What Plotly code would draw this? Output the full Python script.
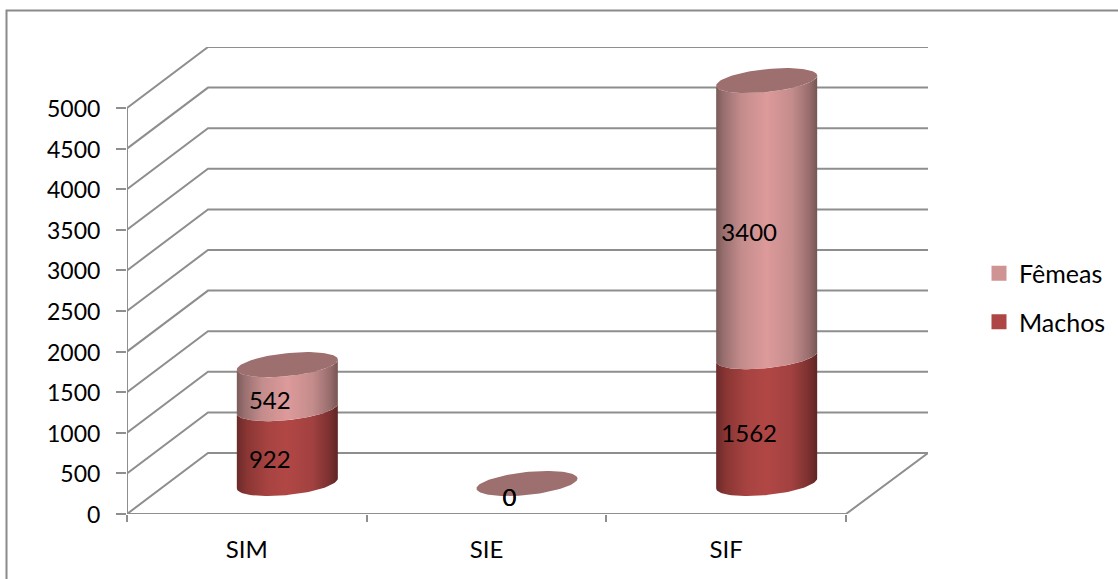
import numpy as np
import plotly.graph_objects as go

categories = ["SIM", "SIE", "SIF"]
machos = [922, 0, 1562]
femeas = [542, 0, 3400]
y_ticks = list(range(0, 5001, 500))

W, H = 1118, 579
LEFT, FRONT_RIGHT, BACK_RIGHT = 127, 846, 928
Y0_PX, Y5000_PX, BACK_TOP = 514, 108, 47
px_x = (FRONT_RIGHT - LEFT) / len(categories)
px_y = (Y0_PX - Y5000_PX) / 5000
DX = 81 / px_x          # depth offset in category units
DY = 61 / px_y          # depth offset in value units
XMAX = (BACK_RIGHT - LEFT) / px_x
YMAX = (Y0_PX - BACK_TOP) / px_y

GRID = "#8e8e8e"
PINK_SCALE = [[0, "#7c5b5b"], [0.08, "#9a7070"], [0.25, "#c48c8c"], [0.5, "#dd9a9a"],
              [0.75, "#c48c8c"], [0.92, "#996d6d"], [1, "#775555"]]
RED_SCALE = [[0, "#6b2a2a"], [0.1, "#8a3634"], [0.3, "#a64341"], [0.5, "#b14745"],
             [0.75, "#a14140"], [0.92, "#7a302f"], [1, "#5e2625"]]
CAP = "#9d6f6f"
SWATCH_F = "#d09393"
SWATCH_M = "#ad4644"
FONT = "Lato"
FS = 24

RX = 50.5 / px_x
TILT = 5 / px_y
RY = 11.5 / px_y


def arc(cx, v, t):
    return cx + RX * np.cos(t), v + TILT * np.cos(t) + RY * np.sin(t)


fig = go.Figure()


def line(xs, ys):
    fig.add_trace(go.Scatter(x=xs, y=ys, mode="lines", line=dict(color=GRID, width=2),
                             showlegend=False, hoverinfo="skip", cliponaxis=False))


# walls and floor
for v in y_ticks:
    line([0, DX, XMAX], [v, v + DY, v + DY])
line([0, 0], [0, 5000])
line([0, 3, XMAX], [0, 0, DY])

front = np.linspace(np.pi, 2 * np.pi, 60)
full = np.linspace(0, 2 * np.pi, 120)


def body(cx, v0, v1, scale):
    x0, y0 = arc(cx, v0, front)
    x1, y1 = arc(cx, v1, front[::-1])
    fig.add_trace(go.Scatter(
        x=np.concatenate([x0, x1]), y=np.concatenate([y0, y1]), mode="lines",
        line=dict(width=0), fill="toself",
        fillgradient=dict(type="horizontal", colorscale=scale),
        showlegend=False, hoverinfo="skip"))


for i, (m, f) in enumerate(zip(machos, femeas)):
    cx = i + 0.5 + DX / 2
    base = DY / 2
    if m:
        body(cx, base, base + m, RED_SCALE)
    if f:
        body(cx, base + m, base + m + f, PINK_SCALE)
    xc, yc = arc(cx, base + m + f, full)
    fig.add_trace(go.Scatter(x=xc, y=yc, mode="lines", line=dict(width=0), fill="toself",
                             fillcolor=CAP, showlegend=False, hoverinfo="skip"))

# data labels
LAB_DX = 23 / px_x
LAB_DY = 14.5 / px_y
xm = [i + 0.5 + LAB_DX for i in range(3)]
fig.add_trace(go.Scatter(x=xm, y=[m / 2 + LAB_DY for m in machos], mode="text",
                         text=[str(m) for m in machos], textposition="middle center",
                         textfont=dict(family=FONT, size=FS, color="black"),
                         showlegend=False, hoverinfo="skip"))
fig.add_trace(go.Scatter(x=xm, y=[m + f / 2 + LAB_DY for m, f in zip(machos, femeas)], mode="text",
                         text=[str(f) for f in femeas], textposition="middle center",
                         textfont=dict(family=FONT, size=FS, color="black"),
                         showlegend=False, hoverinfo="skip"))

# legend entries
fig.add_trace(go.Scatter(x=[None], y=[None], mode="markers", name="Fêmeas", legendgroup="f",
                         marker=dict(symbol="square", size=15, color=SWATCH_F)))
fig.add_trace(go.Scatter(x=[None], y=[None], mode="markers", name="Machos", legendgroup="m",
                         marker=dict(symbol="square", size=15, color=SWATCH_M)))

fig.update_layout(
    width=W, height=H,
    margin=dict(l=LEFT, r=W - BACK_RIGHT, t=BACK_TOP, b=H - Y0_PX, autoexpand=False),
    paper_bgcolor="white", plot_bgcolor="white",
    font=dict(family=FONT, size=FS, color="black"),
    xaxis=dict(range=[0, XMAX], tickmode="array", tickvals=[0.5, 1.5, 2.5], ticktext=categories,
               ticks="", showgrid=False, zeroline=False, showline=False,
               ticklabelstandoff=19, tickfont=dict(family=FONT, size=FS),
               minor=dict(tickmode="array", tickvals=[0, 1, 2, 3], ticks="outside", ticklen=7,
                          tickcolor=GRID, tickwidth=2, showgrid=False)),
    yaxis=dict(range=[0, YMAX], tickmode="array", tickvals=y_ticks, ticks="outside", ticklen=10,
               tickcolor=GRID, tickwidth=2, showgrid=False, zeroline=False, showline=False,
               ticklabelstandoff=11, ticklabelshift=1, tickfont=dict(family=FONT, size=23)),
    legend=dict(x=(979 - LEFT) / (BACK_RIGHT - LEFT), xanchor="left",
                y=0.5 - 17 / (Y0_PX - BACK_TOP), yanchor="middle",
                tracegroupgap=13, font=dict(family=FONT, size=25), bgcolor="rgba(0,0,0,0)"),
    shapes=[dict(type="rect", xref="paper", yref="paper",
                 x0=(6.5 - LEFT) / (BACK_RIGHT - LEFT), x1=(1125 - LEFT) / (BACK_RIGHT - LEFT),
                 y0=(Y0_PX - 590) / (Y0_PX - BACK_TOP), y1=(Y0_PX - 10.5) / (Y0_PX - BACK_TOP),
                 line=dict(color="#8a8a8a", width=2), layer="below")],
)

fig.write_html("out.html", config={"displayModeBar": False},
               post_script="document.body.style.margin='0';document.body.style.overflow='hidden';")
